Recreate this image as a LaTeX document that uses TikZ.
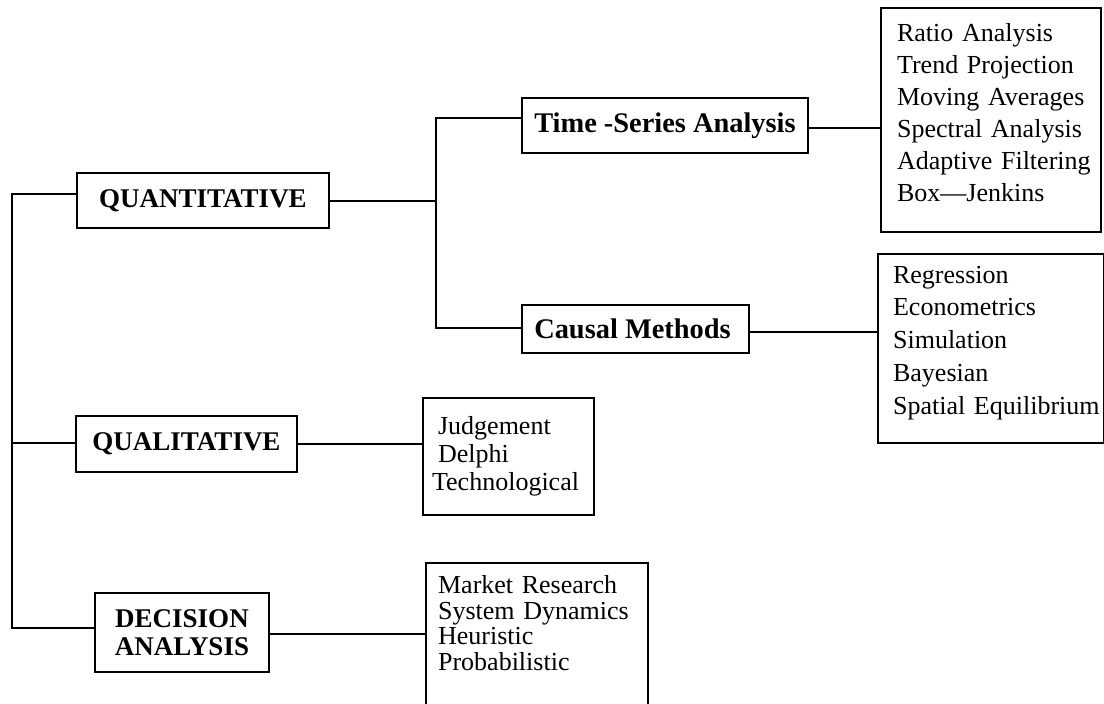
\documentclass[tikz,border=0pt]{standalone}
\usepackage{fontspec}
\setmainfont{Liberation Serif}
\hyphenpenalty=10000
\exhyphenpenalty=10000
\begin{document}
\begin{tikzpicture}[x=0.5pt,y=-0.5pt,
  every node/.style={inner sep=0pt},
  boldbox/.style={draw, line width=1.1pt, align=center,
    font=\fontsize{13.5}{14}\selectfont\bfseries},
  listbox/.style={draw, line width=1.1pt, align=left, anchor=north west, inner ysep=0pt},
  conn/.style={line width=1.1pt}]
\useasboundingbox (0,0) rectangle (1104,704);
\clip (0,0) rectangle (1104,704);
\fill[white] (0,0) rectangle (1104,704);

% category boxes
\node[boldbox, minimum width=126pt, minimum height=27.5pt] (quant) at (203,200.5) {QUANTITATIVE};
\node[boldbox, minimum width=110.5pt, minimum height=28pt] (qual) at (186.5,444) {QUALITATIVE};
\node[boldbox, minimum width=87pt, minimum height=39.5pt] (dec) at (182,632.5) {DECISION\\ANALYSIS};
\node[boldbox, minimum width=143pt, minimum height=27.5pt, font=\fontsize{14.2}{15}\selectfont\bfseries] (ts) at (665,125.5) {Time -Series Analysis};
\node[boldbox, minimum width=113.5pt, minimum height=24pt, font=\fontsize{14.2}{15}\selectfont\bfseries] (causal) at (635.5,329) {Causal Methods\hspace*{3pt}};

% list boxes
\node[listbox, minimum width=110pt, minimum height=112pt, inner xsep=8pt, text width=94pt,
  text height=16.5pt, text depth=95.5pt,
  font=\fontsize{13}{16}\selectfont] (ratio) at (880,7)
  {Ratio~Analysis\\Trend~Projection\\Moving~Averages\\Spectral~Analysis\\Adaptive~Filtering\\Box---Jenkins};
\node[listbox, minimum width=113pt, minimum height=94.5pt, inner xsep=7.5pt, text width=98pt,
  text height=14.5pt, text depth=80pt,
  font=\fontsize{13}{16.4}\selectfont] (regr) at (877,253)
  {Regression\\Econometrics\\Simulation\\Bayesian\\Spatial~Equilibrium};
\node[listbox, minimum width=85.5pt, minimum height=58.5pt, inner xsep=4.5pt, text width=76.5pt,
  font=\fontsize{13}{14}\selectfont] (judg) at (422,397)
  {\hspace*{3pt}Judgement\\\hspace*{3pt}Delphi\\Technological};
\node[listbox, draw=none, minimum width=110pt, minimum height=59pt, inner xsep=5.5pt, text width=99pt,
  font=\fontsize{13}{12.7}\selectfont] (mkt) at (426,563)
  {Market~Research\\System~Dynamics\\Heuristic\\Probabilistic};
\draw[line width=1.1pt] ([yshift=-20pt]mkt.south west) -- (mkt.north west) -- (mkt.north east) -- ([yshift=-20pt]mkt.south east);

% connectors
\coordinate (lt) at (12,194);
\coordinate (lm) at (12,443);
\coordinate (lb) at (12,628);
\draw[conn] (quant.west |- lt) -- (lt) -- (lb) -- (dec.west |- lb);
\draw[conn] (lm) -- (qual.west |- lm);

\coordinate (bt) at (436,118);
\coordinate (bm) at (436,201);
\coordinate (bb) at (436,328);
\draw[conn] (quant.east |- bm) -- (bm);
\draw[conn] (ts.west |- bt) -- (bt) -- (bb) -- (causal.west |- bb);

\coordinate (r1) at (0,128);
\draw[conn] (ts.east |- r1) -- (ratio.west |- r1);
\coordinate (r2) at (0,332);
\draw[conn] (causal.east |- r2) -- (regr.west |- r2);
\coordinate (r3) at (0,444);
\draw[conn] (qual.east |- r3) -- (judg.west |- r3);
\coordinate (r4) at (0,634);
\draw[conn] (dec.east |- r4) -- (mkt.west |- r4);
\end{tikzpicture}
\end{document}
